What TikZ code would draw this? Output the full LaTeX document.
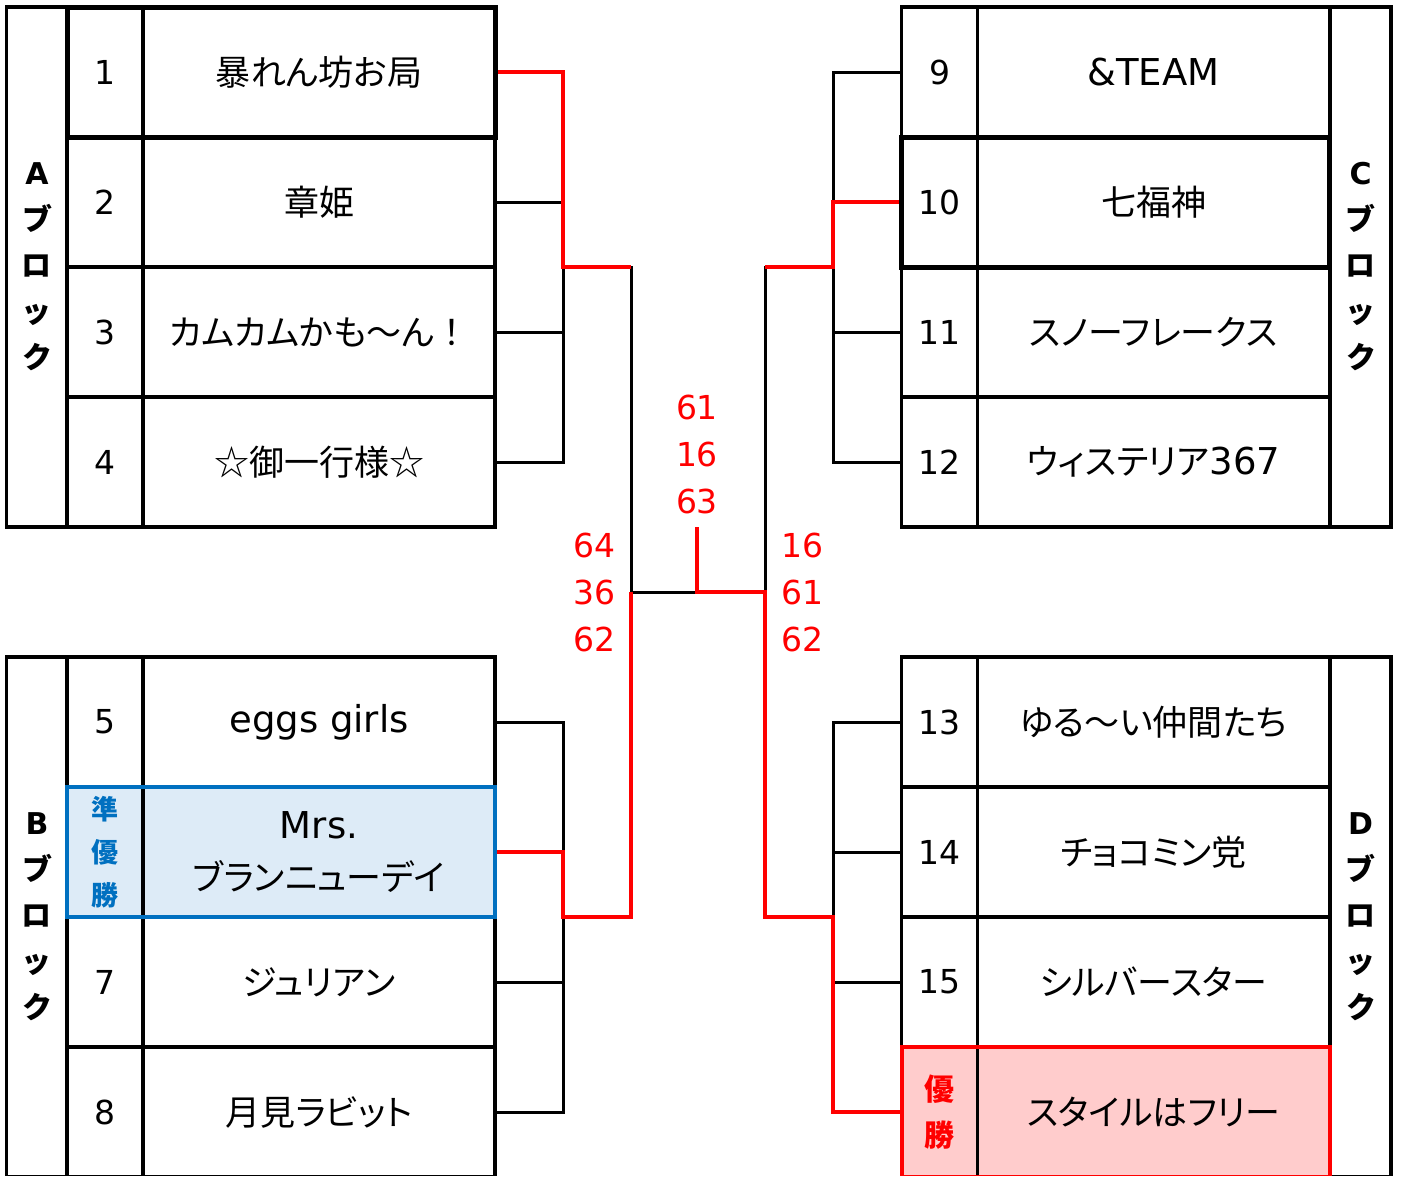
\documentclass[tikz,border=0pt]{standalone}
\usepackage{fontspec}
\setmainfont{DejaVu Sans}
\newfontfamily\jp{Noto Sans CJK JP}[RawFeature=+palt]
\usetikzlibrary{positioning}

\definecolor{winred}{RGB}{255,0,0}
\definecolor{runblue}{RGB}{0,112,192}
\definecolor{runfill}{RGB}{221,235,247}
\definecolor{winfill}{RGB}{255,204,204}

\tikzset{
  cell/.style={draw, line width=3.2pt, inner sep=0pt, outer sep=0pt, minimum height=130pt},
  numcell/.style={cell, minimum width=76pt, font=\fontsize{33}{38}\selectfont},
  namecell/.style={cell, minimum width=352pt, align=center, font=\jp\fontsize{35}{52}\selectfont},
  blockcell/.style={cell, minimum width=61pt, minimum height=520pt, align=center,
    font=\bfseries\fontsize{30}{46}\selectfont},
  runnum/.style={numcell, fill=runfill, text=runblue, align=center,
    font=\jp\bfseries\fontsize{27}{43}\selectfont},
  winnum/.style={numcell, fill=winfill, text=winred, align=center,
    font=\jp\bfseries\fontsize{30}{46}\selectfont},
  wire/.style={line width=3pt},
  winwire/.style={line width=4pt, draw=winred},
  score/.style={text=winred, align=center, inner sep=0pt, font=\fontsize{33}{47}\selectfont},
}
\newcommand\lat[1]{{\rmfamily\fontsize{37}{52}\selectfont #1}}
\newcommand\fullw[1]{{\addfontfeature{RawFeature=-palt}#1}}

\begin{document}
\begin{tikzpicture}[x=1pt, y=-1pt]
  \useasboundingbox (0,0) rectangle (1401,1176);
  \clip (0,0) rectangle (1401,1175);

  % A block
  \node[blockcell]                 (bA) at (37,267) {A\\{\jp ブ}\\{\jp ロ}\\{\jp ッ}\\{\jp ク}};
  \node[numcell]                   (n1) at (105,72) {1};
  \node[numcell, below=0pt of n1]  (n2) {2};
  \node[numcell, below=0pt of n2]  (n3) {3};
  \node[numcell, below=0pt of n3]  (n4) {4};
  \node[namecell, right=0pt of n1] (t1) {暴れん坊お局};
  \node[namecell, right=0pt of n2] (t2) {章姫};
  \node[namecell, right=0pt of n3] (t3) {カムカムかも～ん\fullw{！}};
  \node[namecell, right=0pt of n4] (t4) {☆御一行様☆};

  % B block
  \node[blockcell]                 (bB) at (37,917) {B\\{\jp ブ}\\{\jp ロ}\\{\jp ッ}\\{\jp ク}};
  \node[numcell]                   (n5) at (105,722) {5};
  \node[runnum, below=0pt of n5]   (n6) {準\\優\\勝};
  \node[numcell, below=0pt of n6]  (n7) {7};
  \node[numcell, below=0pt of n7]  (n8) {8};
  \node[namecell, right=0pt of n5] (t5) {\lat{eggs girls}};
  \node[namecell, right=0pt of n6, fill=runfill] (t6) {\lat{Mrs.}\\ブランニューデイ};
  \node[namecell, right=0pt of n7] (t7) {ジュリアン};
  \node[namecell, right=0pt of n8] (t8) {月見ラビット};

  % C block
  \node[blockcell]                 (bC) at (1360.5,267) {C\\{\jp ブ}\\{\jp ロ}\\{\jp ッ}\\{\jp ク}};
  \node[namecell]                  (t9) at (1153.5,72) {\lat{\&TEAM}};
  \node[namecell, below=0pt of t9]  (t10) {七福神};
  \node[namecell, below=0pt of t10] (t11) {スノーフレークス};
  \node[namecell, below=0pt of t11] (t12) {ウィステリア\lat{367}};
  \node[numcell, left=0pt of t9]   (n9) {9};
  \node[numcell, left=0pt of t10]  (n10) {10};
  \node[numcell, left=0pt of t11]  (n11) {11};
  \node[numcell, left=0pt of t12]  (n12) {12};

  % D block
  \node[blockcell]                 (bD) at (1360.5,917) {D\\{\jp ブ}\\{\jp ロ}\\{\jp ッ}\\{\jp ク}};
  \node[namecell]                  (t13) at (1153.5,722) {ゆる～い仲間たち};
  \node[namecell, below=0pt of t13] (t14) {チョコミン党};
  \node[namecell, below=0pt of t14] (t15) {シルバースター};
  \node[namecell, below=0pt of t15, fill=winfill] (t16) {スタイルはフリー};
  \node[numcell, left=0pt of t13]  (n13) {13};
  \node[numcell, left=0pt of t14]  (n14) {14};
  \node[numcell, left=0pt of t15]  (n15) {15};
  \node[winnum, left=0pt of t16]   (n16) {優\\勝};

  % bracket joints
  \coordinate (jA) at (563,267);
  \coordinate (jB) at (563,917);
  \coordinate (jC) at (833,267);
  \coordinate (jD) at (833,917);
  \coordinate (sfL) at (631,592);
  \coordinate (sfR) at (765,592);
  \coordinate (fin) at (697,592);
  \coordinate (ch) at (697,527);

  % black bracket
  \draw[wire] (t1.east) -| (jA) |- (t4.east);
  \draw[wire] (t2.east) -- (t2.east -| jA);
  \draw[wire] (t3.east) -- (t3.east -| jA);
  \draw[wire] (t5.east) -| (jB) |- (t8.east);
  \draw[wire] (t6.east) -- (t6.east -| jB);
  \draw[wire] (t7.east) -- (t7.east -| jB);
  \draw[wire] (n9.west) -| (jC) |- (n12.west);
  \draw[wire] (n10.west) -- (n10.west -| jC);
  \draw[wire] (n11.west) -- (n11.west -| jC);
  \draw[wire] (n13.west) -| (jD) |- (n16.west);
  \draw[wire] (n14.west) -- (n14.west -| jD);
  \draw[wire] (n15.west) -- (n15.west -| jD);
  \draw[wire] (jA) -| (sfL) -- (sfR) |- (jC);

  % winners
  \draw[winwire] (t1.east) -| (jA) -- (jA -| sfL);
  \draw[winwire] (t6.east) -| (jB) -| (sfL);
  \draw[winwire] (n10.west) -| (jC) -- (jC -| sfR);
  \draw[winwire] (n16.west) -| (jD) -| (sfR) -- (fin) -- (ch);

  % highlighted rows
  \draw[line width=5pt] (n1.north west) rectangle (t1.south east);
  \draw[line width=5pt] (n10.north west) rectangle (t10.south east);
  \draw[line width=4pt, runblue] (n6.north west) rectangle (t6.south east);
  \draw[line width=4pt, winred] (n16.north west) rectangle (t16.south east);

  % scores
  \node[score, above=13pt of ch]  (sF) {61\\16\\63};
  \node[score, left=15pt of sfL]  (sL) {64\\36\\62};
  \node[score, right=16pt of sfR] (sR) {16\\61\\62};
\end{tikzpicture}
\end{document}
